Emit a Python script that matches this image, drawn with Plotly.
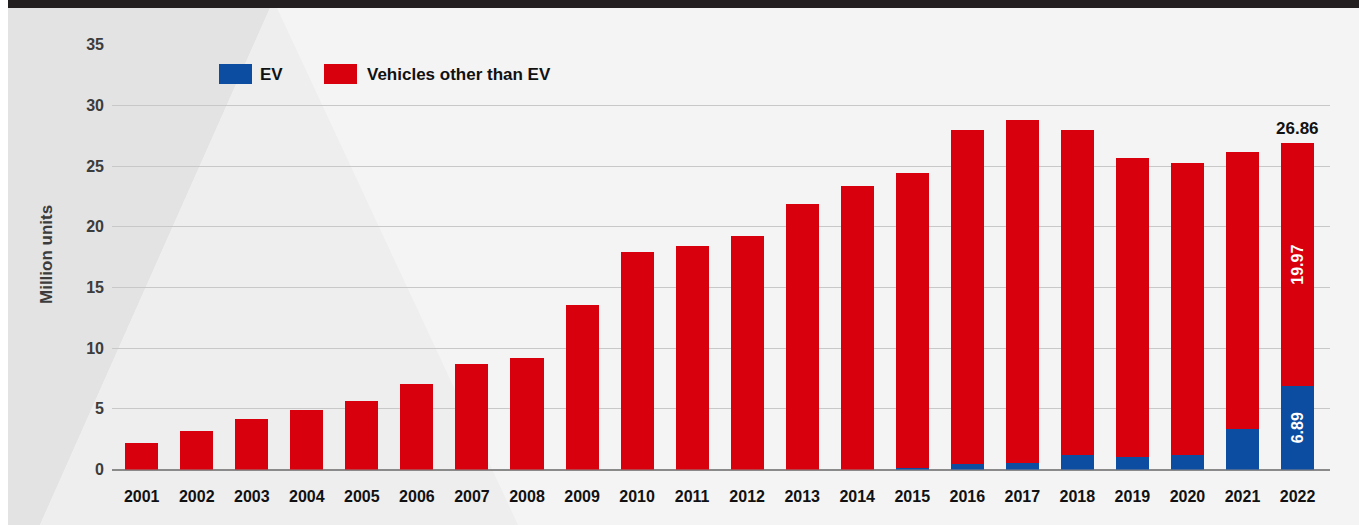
import plotly.graph_objects as go

years = [str(y) for y in range(2001, 2023)]
ev = [0, 0, 0, 0, 0, 0, 0, 0, 0, 0, 0, 0, 0, 0,
      0.15, 0.48, 0.52, 1.18, 1.03, 1.20, 3.33, 6.89]
other = [2.18, 3.17, 4.16, 4.90, 5.64, 7.04, 8.69, 9.18, 13.55, 17.92, 18.41,
         19.24, 21.87, 23.35, 24.27, 27.49, 28.27, 26.79, 24.63, 24.05, 22.82, 19.97]
y_ticks = [0, 5, 10, 15, 20, 25, 30, 35]

RED = "#d9000d"
BLUE = "#0d4da1"
FONT = "Liberation Sans, Arial, sans-serif"
W, H = 1359, 525

ev_text = [""] * (len(years) - 1) + [f"{ev[-1]:.2f}"]
other_text = [""] * (len(years) - 1) + [f"{other[-1]:.2f}"]

fig = go.Figure()
fig.add_trace(go.Bar(x=years, y=ev, name="EV", marker=dict(color=BLUE, line=dict(width=0)),
                     text=ev_text, textposition="inside", textangle=-90,
                     insidetextanchor="middle",
                     textfont=dict(color="white", size=16, family=FONT, weight=700),
                     hoverinfo="x+y"))
fig.add_trace(go.Bar(x=years, y=other, name="Vehicles other than EV",
                     marker=dict(color=RED, line=dict(width=0)),
                     text=other_text, textposition="inside", textangle=-90,
                     insidetextanchor="middle",
                     textfont=dict(color="white", size=16, family=FONT, weight=700),
                     hoverinfo="x+y"))

total_last = round(ev[-1] + other[-1], 2)
fig.add_annotation(x=len(years) - 1, y=total_last, xref="x", yref="y", text=f"{total_last:.2f}",
                   showarrow=False, yanchor="bottom", yshift=3,
                   font=dict(family=FONT, size=17, color="#111111", weight=700))

def px(x):
    return x / W

def py(y):
    return 1 - y / H

def path(points):
    return "M " + " L ".join(f"{px(a):.5f},{py(b):.5f}" for a, b in points) + " Z"

shapes = [
    dict(type="rect", xref="paper", yref="paper", x0=px(8), x1=1, y0=0, y1=py(8),
         fillcolor="#f4f4f4", line=dict(width=0), layer="below"),
    dict(type="path", xref="paper", yref="paper",
         path=path([(8, 8), (270, 8), (40, 525), (8, 525)]),
         fillcolor="#e3e3e3", line=dict(width=0), layer="below"),
    dict(type="path", xref="paper", yref="paper",
         path=path([(270, 8), (277, 8), (518, 525), (40, 525)]),
         fillcolor="#eeeeee", line=dict(width=0), layer="below"),
    dict(type="rect", xref="paper", yref="paper", x0=px(8), x1=1, y0=py(8), y1=1,
         fillcolor="#231f20", line=dict(width=0), layer="below"),
    # legend swatches
    dict(type="rect", xref="paper", yref="paper", x0=px(219), x1=px(252), y0=py(84), y1=py(64),
         fillcolor=BLUE, line=dict(width=0)),
    dict(type="rect", xref="paper", yref="paper", x0=px(324), x1=px(357), y0=py(84), y1=py(64),
         fillcolor=RED, line=dict(width=0)),
]

fig.add_annotation(x=px(258), y=py(74), xref="paper", yref="paper", text="EV",
                   showarrow=False, xanchor="left", yanchor="middle",
                   font=dict(family=FONT, size=17, color="#111111", weight=700))
fig.add_annotation(x=px(365), y=py(74), xref="paper", yref="paper", text="Vehicles other than EV",
                   showarrow=False, xanchor="left", yanchor="middle",
                   font=dict(family=FONT, size=17, color="#111111", weight=700))
fig.add_annotation(x=px(46), y=py(255), xref="paper", yref="paper", text="Million units",
                   showarrow=False, textangle=-90, xanchor="center", yanchor="middle",
                   font=dict(family=FONT, size=17, color="#3c3c3c", weight=700))

fig.update_layout(
    width=W, height=H,
    barmode="stack", bargap=0.4,
    showlegend=False,
    paper_bgcolor="white", plot_bgcolor="rgba(0,0,0,0)",
    margin=dict(l=0, r=0, t=0, b=0, autoexpand=False),
    shapes=shapes,
    xaxis=dict(domain=[px(112), px(1330)], type="category", range=[-0.54, 21.59],
               showgrid=False, showline=False, zeroline=False, ticks="",
               ticklabelstandoff=15,
               tickfont=dict(family=FONT, size=16, color="#111111", weight=700)),
    yaxis=dict(domain=[py(469.5), py(44.6)], range=[0, 35], tickvals=y_ticks,
               showgrid=True, gridcolor="#c8c8c8", gridwidth=1,
               zeroline=True, zerolinecolor="#8a8a8a", zerolinewidth=2,
               showline=False, ticks="", ticklabelstandoff=7,
               tickfont=dict(family=FONT, size=16, color="#3c3c3c", weight=700)),
)

fig.write_html("out.html", config={"displayModeBar": False},
               post_script="document.body.style.margin='0';document.body.style.overflow='hidden';")
